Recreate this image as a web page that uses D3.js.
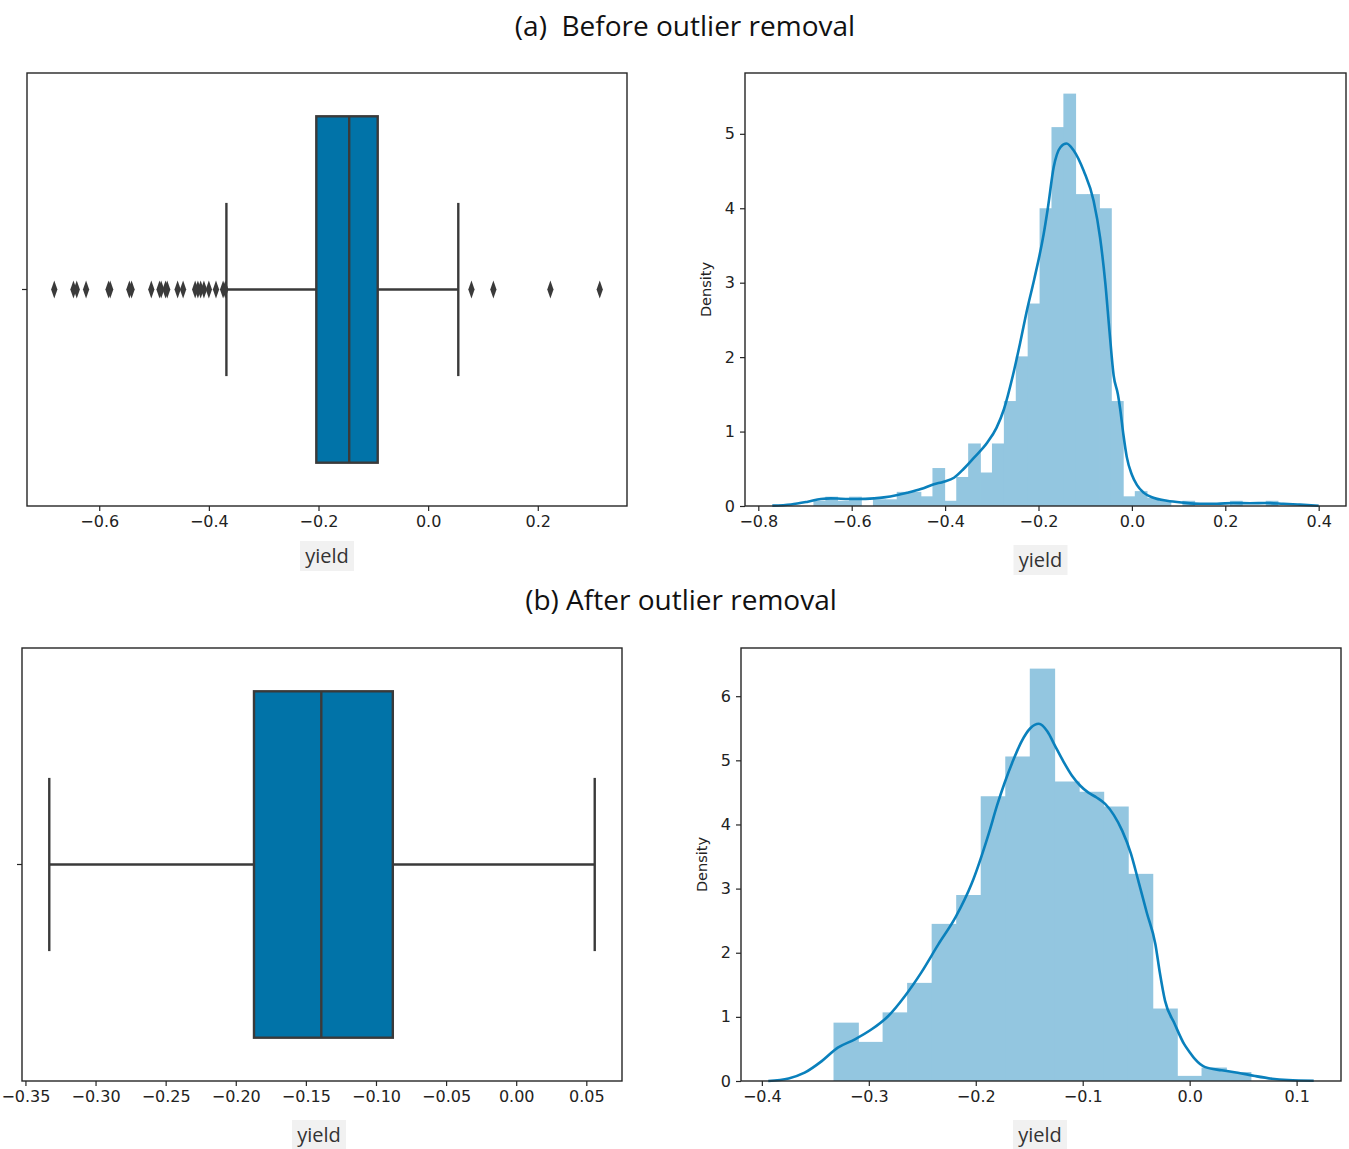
<!DOCTYPE html>
<html>
<head>
<meta charset="utf-8">
<script src="https://cdn.jsdelivr.net/npm/d3@7"></script>
<style>
  body { margin: 0; background: #fff; }
  svg { display: block; }
  .tick text { font-family: "DejaVu Sans", sans-serif; font-size: 16px; fill: #222; }
  .tick line { stroke: #262626; stroke-width: 1.2; }
</style>
</head>
<body>
<svg id="chart" width="1349" height="1149"></svg>
<script>
// titles of the two rows
const titles = ["(a)  Before outlier removal", "(b) After outlier removal"]

// box stats: whisker low, q1, median, q3, whisker high
const boxBefore = [-0.368, -0.204, -0.144, -0.092, 0.055]
const boxAfter = [-0.333, -0.187, -0.139, -0.088, 0.056]

// fliers of the first boxplot
const outliersBefore = [-0.682, -0.647, -0.641, -0.624, -0.583, -0.580, -0.545, -0.541, -0.505,
    -0.490, -0.487, -0.479, -0.476, -0.457, -0.447, -0.425, -0.420, -0.415, -0.409, -0.400,
    -0.387, -0.374, -0.370, 0.079, 0.119, 0.223, 0.313]

// histogram bins (start, width, density per bin)
const histBeforeStart = -0.682
const histBeforeWidth = 0.02549
const histBeforeDensity = [0.07, 0.125, 0.07, 0.125, 0, 0.09, 0.09, 0.19, 0.19, 0.13,
    0.51, 0.07, 0.39, 0.84, 0.45, 0.84, 1.41, 2.01, 2.72, 4.0,
    5.09, 5.54, 4.19, 4.19, 4.0, 1.41, 0.13, 0.2, 0.11, 0.07,
    0, 0.07, 0, 0, 0, 0.07, 0, 0, 0.07]

const histAfterStart = -0.333
const histAfterWidth = 0.02294
const histAfterDensity = [0.91, 0.61, 1.07, 1.53, 2.45, 2.90, 4.44, 5.06, 6.43, 4.67,
    4.51, 4.28, 3.23, 1.13, 0.08, 0.21, 0.14]

// kde curves [yield, density]
const kdeBefore = [[-0.77, 0.005], [-0.73, 0.02], [-0.694, 0.058], [-0.666, 0.094], [-0.645, 0.103],
    [-0.623, 0.098], [-0.588, 0.094], [-0.552, 0.103], [-0.531, 0.116], [-0.502, 0.148],
    [-0.481, 0.179], [-0.452, 0.228], [-0.424, 0.291], [-0.403, 0.327], [-0.381, 0.38],
    [-0.36, 0.5], [-0.338, 0.65], [-0.31, 0.85], [-0.29, 1.05], [-0.274, 1.3], [-0.255, 1.75],
    [-0.239, 2.2], [-0.224, 2.65], [-0.209, 3.05], [-0.189, 3.65], [-0.18, 4.0], [-0.1675, 4.55],
    [-0.153, 4.82], [-0.14, 4.87], [-0.125, 4.78], [-0.103, 4.5], [-0.082, 4.1], [-0.068, 3.6],
    [-0.057, 3.0], [-0.048, 2.35], [-0.039, 1.75], [-0.03, 1.5], [-0.025, 1.3], [-0.018, 0.95],
    [-0.011, 0.66], [0.0, 0.42], [0.011, 0.28], [0.025, 0.18], [0.046, 0.11], [0.075, 0.07],
    [0.11, 0.045], [0.146, 0.03], [0.182, 0.03], [0.217, 0.04], [0.253, 0.036], [0.288, 0.04],
    [0.324, 0.03], [0.36, 0.018], [0.4, 0.004]]

const kdeAfter = [[-0.394, 0.0], [-0.375, 0.04], [-0.36, 0.13], [-0.344, 0.31], [-0.329, 0.52],
    [-0.313, 0.65], [-0.297, 0.81], [-0.282, 1.01], [-0.266, 1.33], [-0.251, 1.69], [-0.235, 2.13],
    [-0.219, 2.55], [-0.204, 3.07], [-0.188, 3.85], [-0.18, 4.3], [-0.173, 4.65], [-0.165, 5.0],
    [-0.157, 5.3], [-0.149, 5.5], [-0.141, 5.57], [-0.133, 5.45], [-0.126, 5.23], [-0.118, 4.98],
    [-0.11, 4.76], [-0.102, 4.6], [-0.095, 4.5], [-0.087, 4.42], [-0.079, 4.32], [-0.071, 4.15],
    [-0.063, 3.9], [-0.055, 3.55], [-0.048, 3.12], [-0.04, 2.62], [-0.032, 2.13], [-0.028, 1.7],
    [-0.023, 1.25], [-0.014, 0.89], [-0.005, 0.57], [0.0, 0.45], [0.005, 0.34], [0.014, 0.22],
    [0.03, 0.167], [0.045, 0.13], [0.061, 0.078], [0.077, 0.036], [0.092, 0.016], [0.116, 0.005]]

// tick labels
const ticksBoxBefore = [-0.6, -0.4, -0.2, 0.0, 0.2]
const ticksHistBefore = [-0.8, -0.6, -0.4, -0.2, 0.0, 0.2, 0.4]
const ticksBoxAfter = [-0.35, -0.30, -0.25, -0.20, -0.15, -0.10, -0.05, 0.00, 0.05]
const ticksHistAfter = [-0.4, -0.3, -0.2, -0.1, 0.0, 0.1]
const densityTicksBefore = [0, 1, 2, 3, 4, 5]
const densityTicksAfter = [0, 1, 2, 3, 4, 5, 6]

const BOX_FILL = "#0173a8"
const LINE = "#3a3a3a"
const BAR_FILL = "#93c6e0"
const KDE = "#0a80bc"
const INK = "#262626"

const svg = d3.select("#chart")

// row titles
svg.selectAll(".title")
    .data(titles)
    .join("text")
    .attr("class", "title")
    .attr("x", (d, i) => i == 0 ? 685 : 681)
    .attr("y", (d, i) => i == 0 ? 36 : 610)
    .attr("text-anchor", "middle")
    .attr("font-family", "'Open Sans', sans-serif")
    .attr("font-size", 28)
    .attr("fill", "#111")
    .style("white-space", "pre")
    .text(d => d)

// matplotlib style 5% padding
let pad = ext => {
    let p = (ext[1] - ext[0]) * 0.05
    return [ext[0] - p, ext[1] + p]
}

let panel = (left, top) => svg.append("g").attr("transform", `translate(${left},${top})`)

let frame = (g, w, h) => {
    g.append("rect")
        .attr("width", w)
        .attr("height", h)
        .attr("fill", "none")
        .attr("stroke", INK)
        .attr("stroke-width", 1.4)
}

// axis label "yield" with its light grey backdrop, below the frame
let xLabel = (g, w, h, pos) => {
    let lab = g.append("g").attr("transform", `translate(${w / 2 + pos[0]},${h + pos[1]})`)
    lab.append("rect")
        .attr("x", -27).attr("y", -22)
        .attr("width", 54).attr("height", 30)
        .attr("fill", "#f1f1f1")
    lab.append("text")
        .attr("text-anchor", "middle")
        .attr("font-family", "'Open Sans', sans-serif")
        .attr("font-size", 20)
        .attr("fill", "#333")
        .text("yield")
}

let bottomAxis = (g, x, h, ticks, fmt) => {
    g.append("g")
        .attr("transform", `translate(0,${h})`)
        .call(d3.axisBottom(x).tickValues(ticks).tickFormat(d3.format(fmt)).tickSize(5).tickPadding(5))
        .call(a => a.select(".domain").remove())
}

function drawBox(left, top, w, h, stats, fliers, ticks, fmt, labelPos) {
    let g = panel(left, top)
    let ext = d3.extent(fliers.concat(stats))
    let x = d3.scaleLinear().domain(pad(ext)).range([0, w])
    // seaborn puts the single category at 0 on a [-0.5, 0.5] axis
    let y = d3.scaleLinear().domain([-0.5, 0.5]).range([0, h])
    let [lo, q1, med, q3, hi] = stats

    // whiskers
    g.selectAll(".whisker")
        .data([[lo, q1], [q3, hi]])
        .join("line")
        .attr("x1", d => x(d[0])).attr("x2", d => x(d[1]))
        .attr("y1", y(0)).attr("y2", y(0))
        .attr("stroke", LINE).attr("stroke-width", 2.4)
    g.selectAll(".cap")
        .data([lo, hi])
        .join("line")
        .attr("x1", d => x(d)).attr("x2", d => x(d))
        .attr("y1", y(-0.2)).attr("y2", y(0.2))
        .attr("stroke", LINE).attr("stroke-width", 2.4)

    // the box
    g.append("rect")
        .attr("x", x(q1))
        .attr("y", y(-0.4))
        .attr("width", x(q3) - x(q1))
        .attr("height", y(0.4) - y(-0.4))
        .attr("fill", BOX_FILL)
        .attr("stroke", LINE)
        .attr("stroke-width", 2.4)
    g.append("line")
        .attr("x1", x(med)).attr("x2", x(med))
        .attr("y1", y(-0.4)).attr("y2", y(0.4))
        .attr("stroke", LINE).attr("stroke-width", 2.4)

    // fliers as thin diamonds
    let diamond = d3.symbol(d3.symbolDiamond, 95)
    g.selectAll(".flier")
        .data(fliers)
        .join("path")
        .attr("d", diamond)
        .attr("transform", d => `translate(${x(d)},${y(0)}) scale(0.6,1)`)
        .attr("fill", LINE)

    frame(g, w, h)
    bottomAxis(g, x, h, ticks, fmt)
    // empty category tick on the left
    g.append("line")
        .attr("x1", -5).attr("x2", 0)
        .attr("y1", y(0)).attr("y2", y(0))
        .attr("stroke", INK).attr("stroke-width", 1.2)
    xLabel(g, w, h, labelPos)
}

function drawHist(left, top, w, h, start, width, density, kde, ticks, yTicks, fmt, labelPos) {
    let g = panel(left, top)
    let x = d3.scaleLinear().domain(pad(d3.extent(kde, d => d[0]))).range([0, w])
    let y = d3.scaleLinear().domain([0, d3.max(density) * 1.05]).range([h, 0])

    g.selectAll(".bar")
        .data(density)
        .join("rect")
        .attr("class", "bar")
        .attr("x", (d, i) => x(start + i * width))
        .attr("width", (d, i) => x(start + (i + 1) * width) - x(start + i * width) + 0.8)
        .attr("y", d => y(d))
        .attr("height", d => y(0) - y(d))
        .attr("fill", BAR_FILL)

    g.append("path")
        .datum(kde)
        .attr("d", d3.line().x(d => x(d[0])).y(d => y(d[1])).curve(d3.curveMonotoneX))
        .attr("fill", "none")
        .attr("stroke", KDE)
        .attr("stroke-width", 2.6)

    frame(g, w, h)
    bottomAxis(g, x, h, ticks, fmt)
    g.append("g")
        .call(d3.axisLeft(y).tickValues(yTicks).tickFormat(d3.format("d")).tickSize(5).tickPadding(5))
        .call(a => a.select(".domain").remove())

    g.append("text")
        .attr("transform", `translate(-34,${h / 2}) rotate(-90)`)
        .attr("text-anchor", "middle")
        .attr("font-family", "'DejaVu Sans', sans-serif")
        .attr("font-size", 14.5)
        .attr("fill", "#222")
        .text("Density")
    xLabel(g, w, h, labelPos)
}

drawBox(27, 73, 600, 433, boxBefore, outliersBefore, ticksBoxBefore, ".1f", [0, 57])
drawHist(745, 73, 601, 433, histBeforeStart, histBeforeWidth, histBeforeDensity, kdeBefore,
    ticksHistBefore, densityTicksBefore, ".1f", [-5, 61])
drawBox(22, 648, 600, 433, boxAfter, [], ticksBoxAfter, ".2f", [-3, 61])
drawHist(741, 648, 600, 433, histAfterStart, histAfterWidth, histAfterDensity, kdeAfter,
    ticksHistAfter, densityTicksAfter, ".1f", [-1, 61])
</script>
</body>
</html>
